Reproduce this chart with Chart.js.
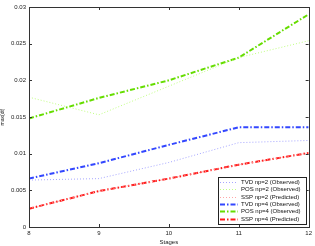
<!DOCTYPE html>
<html><head><meta charset="utf-8">
<script src="https://cdn.jsdelivr.net/npm/chart.js@4"></script>
<style>html,body{margin:0;padding:0;background:#fff}#wrap{width:315px;height:246px}</style>
</head><body><div id="wrap"><canvas id="c" width="315" height="246"></canvas></div>
<script>
const stages = [8, 9, 10, 11, 12];
const tvdNp2 = [0.0064, 0.0066, 0.0088, 0.0115, 0.0118];
const posNp2 = [0.0177, 0.0153, 0.0192, 0.0231, 0.0254];
const sspNp2 = [0.0025, 0.0049, 0.0066, 0.0085, 0.0101];
const tvdNp4 = [0.0066, 0.0087, 0.0112, 0.0136, 0.0136];
const posNp4 = [0.0148, 0.0176, 0.0200, 0.0231, 0.0290];
const sspNp4 = [0.0025, 0.0049, 0.0066, 0.0085, 0.0101];
const yTicks = [0, 0.005, 0.01, 0.015, 0.02, 0.025, 0.03];
const seriesNames = ['TVD np=2 (Observed)','POS np=2 (Observed)','SSP np=2 (Predicted)','TVD np=4 (Observed)','POS np=4 (Observed)','SSP np=4 (Predicted)'];

const FONT = 'Liberation Sans, Arial, sans-serif';
function mk(label, data, color, width, dash){
  return {label, data: stages.map((s,i)=>({x:s,y:data[i]})), borderColor: color, backgroundColor: color,
    borderWidth: width, borderDash: dash, pointRadius: 0, fill: false, tension: 0};
}
const datasets = [
  mk(seriesNames[0], tvdNp2, '#a6a6ff', 1, [1,2]),
  mk(seriesNames[1], posNp2, '#bfff80', 1, [1,2]),
  mk(seriesNames[2], sspNp2, '#ffa6a6', 1, [1,2]),
  mk(seriesNames[3], tvdNp4, '#3347ff', 2, [5,2,1.5,2]),
  mk(seriesNames[4], posNp4, '#66dd00', 2, [5,2,1.5,2]),
  mk(seriesNames[5], sspNp4, '#ff1a1a', 2, [5,2,1.5,2])
];

const framePlugin = {
  id: 'frame',
  afterDraw(chart){
    const ctx = chart.ctx, a = chart.chartArea, xs = chart.scales.x, ys = chart.scales.y;
    ctx.save();
    ctx.strokeStyle = '#333'; ctx.lineWidth = 1;
    ctx.strokeRect(Math.round(a.left)+0.5, Math.round(a.top)+0.5, Math.round(a.right-a.left), Math.round(a.bottom-a.top));
    ctx.beginPath();
    stages.forEach(s=>{ const x = Math.round(xs.getPixelForValue(s))+0.5;
      ctx.moveTo(x, a.bottom); ctx.lineTo(x, a.bottom-3); ctx.moveTo(x, a.top); ctx.lineTo(x, a.top+3); });
    yTicks.forEach(v=>{ const y = Math.round(ys.getPixelForValue(v))+0.5;
      ctx.moveTo(a.left, y); ctx.lineTo(a.left+3, y); ctx.moveTo(a.right, y); ctx.lineTo(a.right-3, y); });
    ctx.stroke();
    // legend
    const lx = 218, ly = 177, lw = 88, lh = 47;
    ctx.fillStyle = '#fff'; ctx.fillRect(lx, ly, lw, lh);
    ctx.strokeStyle = '#222'; ctx.strokeRect(lx+0.5, ly+0.5, lw, lh);
    ctx.font = '6px ' + FONT; ctx.textBaseline = 'middle'; ctx.fillStyle = '#111';
    chart.data.datasets.forEach((d,i)=>{
      const y = ly + 5 + i*7.3;
      ctx.strokeStyle = d.borderColor; ctx.lineWidth = d.borderWidth; ctx.setLineDash(d.borderDash);
      ctx.beginPath(); ctx.moveTo(lx+2, Math.round(y)+0.5); ctx.lineTo(lx+20, Math.round(y)+0.5); ctx.stroke();
      ctx.setLineDash([]);
      ctx.fillText(d.label, lx+23, y+0.5);
    });
    ctx.restore();
  }
};

new Chart(document.getElementById('c'), {
  type: 'line',
  data: { datasets },
  options: {
    responsive: false, animation: false, devicePixelRatio: 1,
    layout: { padding: { top: 7, right: 6, left: 0, bottom: 0 } },
    plugins: { legend: { display: false }, tooltip: { enabled: false } },
    scales: {
      x: { type: 'linear', min: 8, max: 12,
        afterBuildTicks: s => { s.ticks = stages.map(v=>({value:v})); },
        afterFit: s => { s.height = 19; },
        grid: { display: false, drawTicks: false },
        border: { display: false },
        ticks: { font: { size: 6, family: FONT }, color: '#222', padding: 3, maxRotation: 0, callback: v => String(v) },
        title: { display: true, text: 'Stages', font: { size: 6, family: FONT }, color: '#222', padding: { top: 0, bottom: 0 } }
      },
      y: { min: 0, max: 0.03,
        afterBuildTicks: s => { s.ticks = yTicks.map(v=>({value:v})); },
        afterFit: s => { s.width = 29; },
        grid: { display: false, drawTicks: false },
        border: { display: false },
        ticks: { font: { size: 6, family: FONT }, color: '#222', padding: 3, callback: v => String(+v.toFixed(3)) },
        title: { display: true, text: 'max(dt)', font: { size: 5, family: FONT }, color: '#222', padding: { top: 0, bottom: 0 } }
      }
    }
  },
  plugins: [framePlugin]
});
</script></body></html>
